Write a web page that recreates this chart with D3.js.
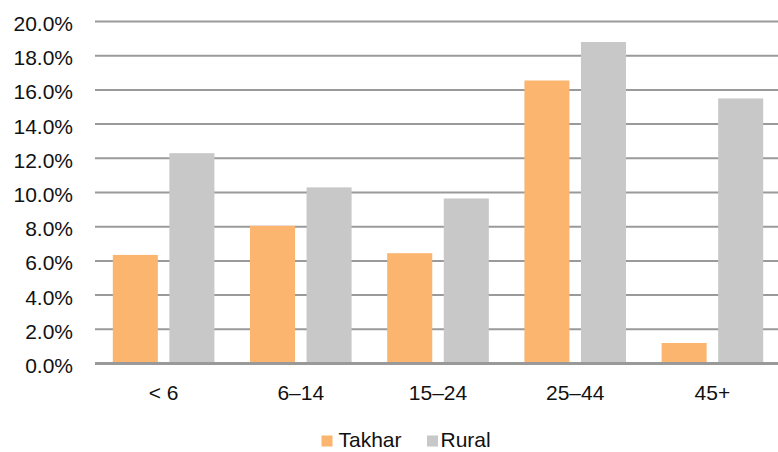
<!DOCTYPE html>
<html>
<head>
<meta charset="utf-8">
<script src="https://cdn.jsdelivr.net/npm/d3@7/dist/d3.min.js"></script>
<style>
  html, body { margin: 0; padding: 0; background: #fff; }
  svg { display: block; }
  text { font-family: "Liberation Sans", Arial, sans-serif; fill: #111; }
</style>
</head>
<body>
<svg id="chart" width="778" height="452"></svg>
<script>
// Share of population by age group, Takhar vs. rural average (%)
const categories = ["< 6", "6–14", "15–24", "25–44", "45+"];
const seriesNames = ["Takhar", "Rural"];
const takharValues = [6.35, 8.05, 6.45, 16.55, 1.2];
const ruralValues = [12.3, 10.3, 9.65, 18.8, 15.5];
const yTicks = [0, 2, 4, 6, 8, 10, 12, 14, 16, 18, 20];
const colors = ["#FBB56F", "#C8C8C8"];

const W = 778, H = 452;
const svg = d3.select("#chart");

const y = d3.scaleLinear().domain([0, 20]).range([363.5, 21.5]);
const x0 = d3.scaleBand().domain(categories).range([95, 781]).padding(0);
const groupPad = 17.8;
const x1 = d3.scaleBand().domain(seriesNames)
  .range([groupPad, x0.bandwidth() - groupPad])
  .paddingInner(0.2035).paddingOuter(0);

// horizontal gridlines
svg.append("g").selectAll("line")
  .data(yTicks.filter(d => d > 0))
  .join("line")
  .attr("x1", 95).attr("x2", W)
  .attr("y1", d => y(d)).attr("y2", d => y(d))
  .attr("stroke", "#9a9a9a").attr("stroke-width", 2);

// y tick labels
svg.append("g").selectAll("text")
  .data(yTicks)
  .join("text")
  .attr("x", 73).attr("y", d => y(d) + 9.5)
  .attr("text-anchor", "end")
  .attr("font-size", 21)
  .text(d => d3.format(".1f")(d) + "%");

// bars
const rows = categories.map((c, i) => ({ cat: c, vals: [takharValues[i], ruralValues[i]] }));
const groups = svg.append("g").selectAll("g")
  .data(rows)
  .join("g")
  .attr("transform", d => `translate(${x0(d.cat)},0)`);

groups.selectAll("rect")
  .data(d => d.vals.map((v, k) => ({ key: seriesNames[k], v, k })))
  .join("rect")
  .attr("x", d => x1(d.key))
  .attr("width", x1.bandwidth())
  .attr("y", d => y(d.v))
  .attr("height", d => y(0) - y(d.v))
  .attr("fill", d => colors[d.k]);

// baseline
svg.append("line")
  .attr("x1", 95).attr("x2", W)
  .attr("y1", y(0)).attr("y2", y(0))
  .attr("stroke", "#999").attr("stroke-width", 3);

// category labels
svg.append("g").selectAll("text")
  .data(categories)
  .join("text")
  .attr("x", d => x0(d) + x0.bandwidth() / 2)
  .attr("y", 400)
  .attr("text-anchor", "middle")
  .attr("font-size", 21)
  .text(d => d);

// legend
const legendItems = [
  { name: seriesNames[0], color: colors[0], sx: 321.5, tx: 338.5 },
  { name: seriesNames[1], color: colors[1], sx: 427, tx: 440.5 }
];
const lg = svg.append("g");
lg.selectAll("rect")
  .data(legendItems)
  .join("rect")
  .attr("x", d => d.sx).attr("y", 435.5)
  .attr("width", 11).attr("height", 11)
  .attr("fill", d => d.color);
lg.selectAll("text")
  .data(legendItems)
  .join("text")
  .attr("x", d => d.tx).attr("y", 447)
  .attr("font-size", 21)
  .text(d => d.name);
</script>
</body>
</html>
